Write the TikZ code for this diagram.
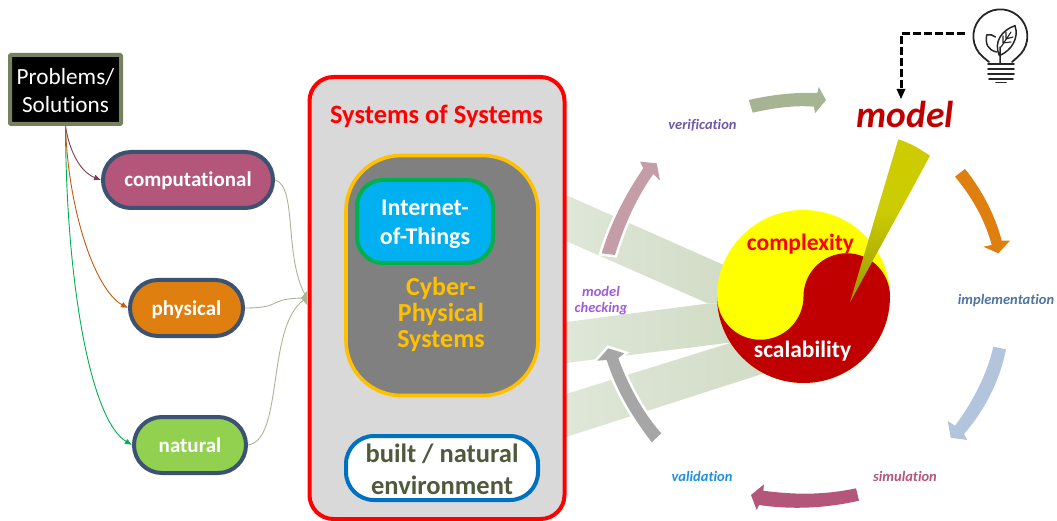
\documentclass[tikz,border=0pt]{standalone}
\usepackage{fontspec}
\setmainfont[Ligatures=NoCommon]{Carlito}
\usetikzlibrary{arrows.meta}
\definecolor{pillline}{HTML}{3B5273}
\definecolor{rose}{HTML}{B4557A}
\definecolor{amber}{HTML}{DF7F0F}
\definecolor{leaf}{HTML}{92D050}
\definecolor{sage}{HTML}{A9B594}
\definecolor{moss}{HTML}{76815F}
\definecolor{bandL}{HTML}{DFE7D8}
\definecolor{bandR}{HTML}{D0DBC4}
\definecolor{gold}{HTML}{FFC000}
\definecolor{envtext}{HTML}{4F5A3C}
\definecolor{pureyellow}{HTML}{FFFF00}
\definecolor{purered}{HTML}{FF0000}
\definecolor{darkred}{HTML}{C00000}
\definecolor{pinkarrow}{HTML}{C49DA6}
\definecolor{greyarrow}{HTML}{A6A6A6}
\definecolor{wedgetop}{HTML}{CCCC00}
\definecolor{wedgelow}{HTML}{999900}
\newcommand{\pilltext}[1]{\raisebox{-7pt}[0pt][0pt]{#1}}
\tikzset{
  pill/.style={draw=pillline,line width=4pt,text=white,font=\fontsize{21}{24}\selectfont\bfseries,minimum height=56pt,rounded corners=27.9pt,inner sep=0pt},
  box/.style={inner sep=0pt,align=center},
  cyc/.style={font=\fontsize{14.5}{16.5}\selectfont\bfseries\itshape,inner sep=0pt,align=center},
  feed/.style={line width=.9pt,-{Latex[length=7pt,width=6pt]}},
  merge/.style={draw=sage,line width=.9pt},
  band/.style={left color=bandL,right color=bandR},
  bulbline/.style={draw=black!85,line width=1.8pt,line cap=round,line join=round}
}
\begin{document}
\begin{tikzpicture}[x=1pt,y=-1pt]
\useasboundingbox (0,0) rectangle (1057,521);
% bands
\shade[band] (566,195) -- (735,270) -- (740,303.5) -- (708,303.5) -- (566,241) -- cycle;
\shade[band] (566,322) -- (708,303.5) -- (740,303.5) -- (735,342) -- (566,363) -- cycle;
\shade[band] (566,394) -- (730,343) -- (790,365) -- (566,437) -- cycle;
% systems of systems
\node[draw=purered,line width=4pt,fill=black!15,rounded corners=24pt,minimum width=255pt,minimum height=442pt,inner sep=0pt] (sos) at (437,298) {};
\node[box,text=purered,font=\fontsize{26.5}{30}\selectfont\bfseries] (sostitle) at (436.5,116.5) {Systems of Systems};
\node[draw=gold,line width=3.6pt,fill=black!50,rounded corners=55pt,minimum width=192pt,minimum height=240pt,inner sep=0pt] (cps) at (442,275.5) {};
\node[draw={rgb,255:red,0;green,176;blue,80},line width=4pt,fill={rgb,255:red,0;green,176;blue,240},rounded corners=26pt,minimum width=136pt,minimum height=83pt,inner sep=0pt] (iot) at (425,221.5) {};
\node[box,text=white,font=\fontsize{24}{29}\selectfont\bfseries] (iottext) at (425,224) {Internet-\\of-Things};
\node[box,text=gold,font=\fontsize{26}{26}\selectfont\bfseries] (cpstext) at (441,314.5) {Cyber-\\Physical\\Systems};
\node[draw={rgb,255:red,0;green,112;blue,192},line width=4pt,fill=white,rounded corners=28pt,minimum width=192pt,minimum height=64pt,inner sep=0pt] (env) at (442,468) {};
\node[box,text=envtext,font=\fontsize{26.5}{32}\selectfont\bfseries] (envtext) at (442,469.5) {built / natural\\environment};
% left column
\node[draw=moss,line width=4pt,fill=black,rounded corners=1pt,minimum width=111pt,minimum height=69pt,inner sep=0pt] (prob) at (65.5,89.5) {};
\node[box,text=white,font=\fontsize{23.2}{28}\selectfont] (probtext) at (65.5,91) {Problems/\\Solutions};
\node[pill,fill=rose,minimum width=170pt] (comp) at (188,180) {\pilltext{computational}};
\node[pill,fill=amber,minimum width=113pt] (phys) at (186.5,308) {\pilltext{physical}};
\node[pill,fill=leaf,minimum width=112pt] (nat) at (190,445) {\pilltext{natural}};
\draw[feed,color=rose!70!black] (prob.south) .. controls (69,150) and (80,172) .. (comp.west);
\draw[feed,color={rgb,255:red,197;green,90;blue,17}] (prob.south) .. controls (68,210) and (95,290) .. (phys.west);
\draw[feed,color={rgb,255:red,0;green,176;blue,80}] (prob.south) .. controls (66,280) and (90,420) .. (nat.west);
\coordinate (sosin) at (307,298);
\draw[merge] (comp.east) .. controls (298,186) and (283,260) .. (sosin);
\draw[merge] (phys.east) .. controls (285,308) and (265,298) .. (sosin);
\draw[merge] (nat.east) .. controls (285,440) and (265,320) .. (sosin);
\fill[sage] (307,291) -- (307,305) -- (301,298) -- cycle;
% cycle arrows
\path[draw=white,line width=5pt,fill=white] (601.7,253.3) .. controls (610,225) and (625,195) .. (643.3,168.3) -- (640,161.7) -- (656.7,163.3) -- (660,180.7) -- (653.3,174) .. controls (637,197) and (624,225) .. (615,255) -- cycle;
\path[fill=pinkarrow] (601.7,253.3) .. controls (610,225) and (625,195) .. (643.3,168.3) -- (640,161.7) -- (656.7,163.3) -- (660,180.7) -- (653.3,174) .. controls (637,197) and (624,225) .. (615,255) -- cycle;
\path[draw=white,line width=5pt,fill=white] (661.3,433.3) .. controls (645,415) and (630,390) .. (618.3,358.3) -- (624.3,353.3) -- (608.3,348.3) -- (597.3,360.7) -- (606.7,360) .. controls (618,395) and (635,420) .. (651.7,442.3) -- cycle;
\path[fill=greyarrow] (661.3,433.3) .. controls (645,415) and (630,390) .. (618.3,358.3) -- (624.3,353.3) -- (608.3,348.3) -- (597.3,360.7) -- (606.7,360) .. controls (618,395) and (635,420) .. (651.7,442.3) -- cycle;
\path[fill={rgb,255:red,166;green,180;blue,148}] (748.7,100) .. controls (770,95) and (795,92) .. (817.3,93) -- (818.7,87) -- (826,100) -- (815,113.3) -- (814,106.7) .. controls (795,105) and (773,108) .. (752.7,112.7) -- cycle;
\path[fill=amber] (955,176.7) .. controls (972,197) and (985,220) .. (991.7,245) -- (983.3,246.7) -- (998.3,253.3) -- (1010,240.7) -- (1001.7,240.7) .. controls (995,215) and (982,190) .. (965,169) -- cycle;
\path[fill={rgb,255:red,179;green,197;blue,220}] (993.3,346.7) .. controls (987,375) and (972,403) .. (955,425.7) -- (947.7,421) -- (950.7,437.7) -- (967.3,440) -- (964,434) .. controls (985,410) and (1000,380) .. (1006,349.3) -- cycle;
\path[fill=rose] (856,488.3) .. controls (825,495) and (795,495) .. (763.3,490.7) -- (764,484.3) -- (751,495) -- (756.7,510) -- (759,505) .. controls (793,510) and (827,508) .. (859,500.7) -- cycle;
% yin yang
\fill[pureyellow] (803.5,296.5) circle[radius=86.5pt];
\fill[darkred] (890,296.5) arc[start angle=0,end angle=-180,radius=86.5pt] arc[start angle=180,end angle=360,radius=43.25pt] arc[start angle=180,end angle=0,radius=43.25pt] -- cycle;
\node[box,text=purered,font=\fontsize{23.5}{26}\selectfont\bfseries] (cx) at (800.5,244.5) {complexity};
\node[box,text=white,font=\fontsize{23.5}{26}\selectfont\bfseries] (sc) at (802.5,351.5) {scalability};
\fill[wedgetop] (898.3,139.3) .. controls (910,143) and (920,149) .. (930,155.7) -- (900.4,210.3) -- (877.2,210.3) -- cycle;
\shade[top color=wedgetop,bottom color=wedgelow] (877.3,210) -- (900.4,210) -- (850,302.3) -- cycle;
% labels
\node[box,text=darkred,font=\fontsize{37.5}{40}\selectfont\bfseries\itshape] (model) at (905,114) {model};
\node[cyc,text={rgb,255:red,112;green,88;blue,168}] (ver) at (702.5,125) {verification};
\node[cyc,text={rgb,255:red,160;green,92;blue,216}] (mc) at (601,300.5) {model\\checking};
\node[cyc,text={rgb,255:red,79;green,116;blue,160}] (impl) at (1006,301) {implementation};
\node[cyc,text=rose] (sim) at (905,476) {simulation};
\node[cyc,text={rgb,255:red,32;green,144;blue,224}] (val) at (702,476) {validation};
% bulb
\coordinate (bulb) at (965,34);
\coordinate (modeltop) at (901,99);
\draw[line width=3pt,dash pattern=on 8pt off 3pt] (bulb) -| (901,90);
\fill (896.5,89) -- (905.5,89) -- (modeltop) -- cycle;
\draw[bulbline] (989,62) -- (983,57) arc[start angle=-130,end angle=-410,radius=27pt] -- (1012,62);
\draw[bulbline] (988,64) -- (1014,64) (988,69) -- (1014,69) (988,74) -- (1014,74) (989,79) -- (1013,79) (996,82.5) -- (1006,82.5);
\draw[bulbline,line width=1.5pt] (1000,64) -- (1000,47) (999.5,55.7) .. controls (993,42) and (1002,30) .. (1015,25.7) .. controls (1019,38) and (1012,50) .. (999.5,55.7);
\draw[bulbline,line width=1.5pt] (996.5,52) .. controls (988,50) and (985,44) .. (986.7,35) .. controls (990,34) and (993,35) .. (995.5,37);
\draw[bulbline,line width=1.1pt] (1001,47) -- (1011,32) (1003,43) -- (1003,36) (1006,39) -- (1006,32) (1003,43) -- (1011,42) (1006,39) -- (1013,37);
\end{tikzpicture}
\end{document}
